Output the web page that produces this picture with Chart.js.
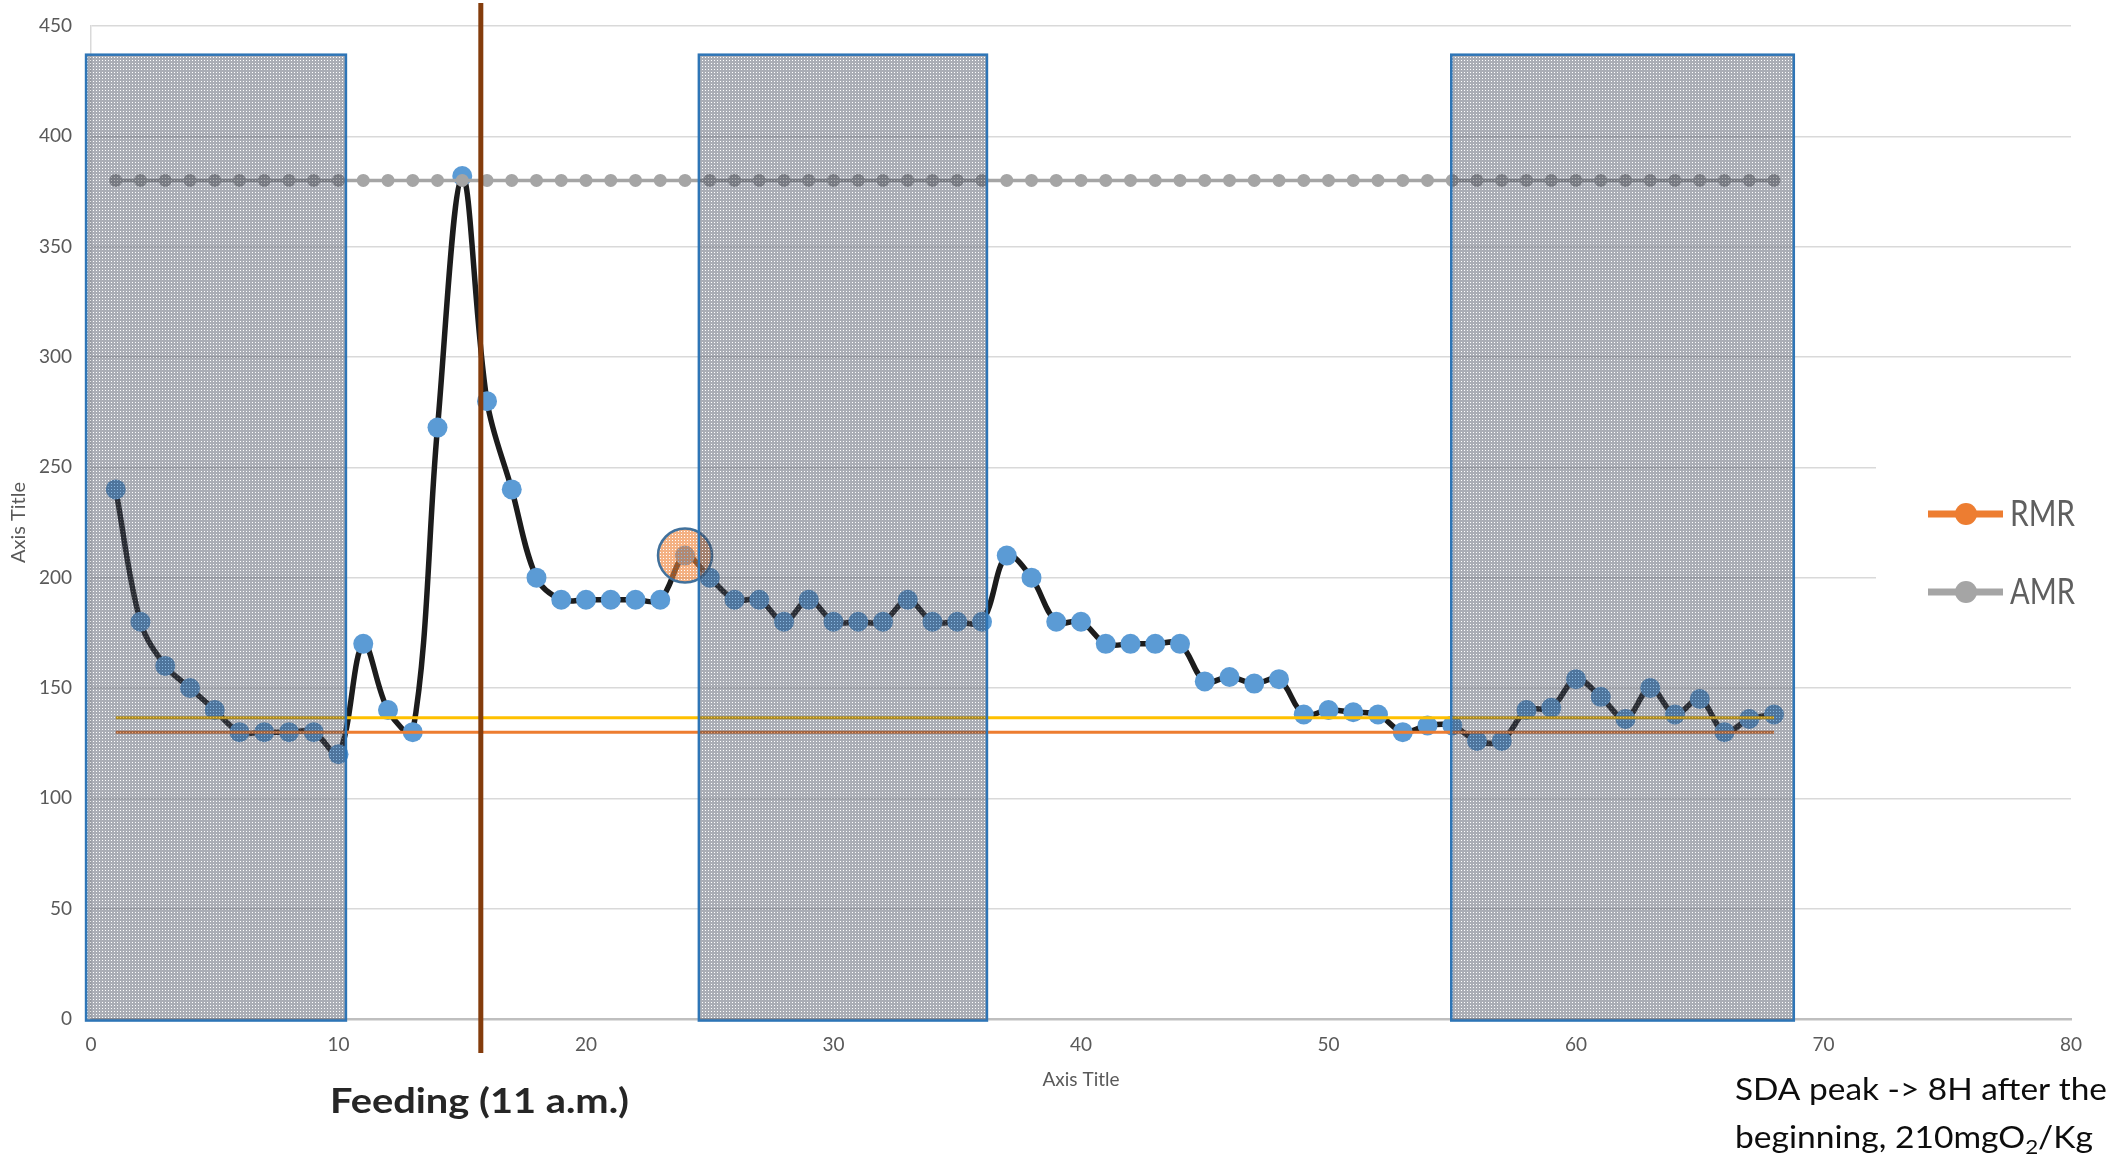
<!DOCTYPE html>
<html>
<head>
<meta charset="utf-8">
<title>SDA</title>
<script src="https://cdn.jsdelivr.net/npm/chart.js@4.4.1/dist/chart.umd.min.js"></script>
<style>
  html, body { margin: 0; padding: 0; background: #fff; }
  #wrap { width: 2127px; height: 1155px; }
</style>
</head>
<body>
<div id="wrap"><canvas id="myChart" width="2127" height="1155"></canvas></div>
<script>
// hours since start of the recording
const hours = [1, 2, 3, 4, 5, 6, 7, 8, 9, 10, 11, 12, 13, 14, 15, 16, 17, 18, 19, 20,
    21, 22, 23, 24, 25, 26, 27, 28, 29, 30, 31, 32, 33, 34, 35, 36, 37, 38, 39, 40,
    41, 42, 43, 44, 45, 46, 47, 48, 49, 50, 51, 52, 53, 54, 55, 56, 57, 58, 59, 60,
    61, 62, 63, 64, 65, 66, 67, 68];

// oxygen consumption, mgO2/Kg/h
const mo2 = [240, 180, 160, 150, 140, 130, 130, 130, 130, 120, 170, 140, 130, 268, 382, 280, 240, 200, 190, 190,
    190, 190, 190, 210, 200, 190, 190, 180, 190, 180, 180, 180, 190, 180, 180, 180, 210, 200, 180, 180,
    170, 170, 170, 170, 153, 155, 152, 154, 138, 140, 139, 138, 130, 133, 133, 126, 126, 140, 141, 154,
    146, 136, 150, 138, 145, 130, 136, 138];

// active metabolic rate, one reading per hour
const amr = [380, 380, 380, 380, 380, 380, 380, 380, 380, 380, 380, 380, 380, 380, 380, 380, 380, 380, 380, 380,
    380, 380, 380, 380, 380, 380, 380, 380, 380, 380, 380, 380, 380, 380, 380, 380, 380, 380, 380, 380,
    380, 380, 380, 380, 380, 380, 380, 380, 380, 380, 380, 380, 380, 380, 380, 380, 380, 380, 380, 380,
    380, 380, 380, 380, 380, 380, 380, 380];

// routine metabolic rate and mean level, start and end of the run
const levelHours = [1, 68];
const rmr = [130, 130];
const meanLevel = [136.5, 136.5];

// night periods (hours) shaded on the plot
const nightStart = [-0.2, 24.56, 54.96];
const nightEnd = [10.3, 36.2, 68.8];
const nightTop = 437;

const feedingHour = 15.75;
const sdaPeak = { x: 24, y: 210 };

const legendLabels = ['RMR', 'AMR'];

const toPoints = (xs, ys) => xs.map((x, i) => ({ x: x, y: ys[i] }));

function makeTile(base, light) {
    const c = document.createElement('canvas');
    c.width = 3; c.height = 3;
    const g = c.getContext('2d');
    g.fillStyle = base;
    g.fillRect(0, 0, 3, 3);
    g.clearRect(0, 0, 1, 1);
    g.fillStyle = light;
    g.fillRect(0, 0, 1, 1);
    return c;
}

// text squeezed to a given width, runs = [{text, font, dy}]
function drawRuns(ctx, runs, x, y, width, color) {
    ctx.save();
    ctx.fillStyle = color;
    ctx.textBaseline = 'alphabetic';
    ctx.textAlign = 'left';
    let total = 0;
    runs.forEach(r => { ctx.font = r.font; r.w = ctx.measureText(r.text).width; total += r.w; });
    ctx.translate(x, y);
    ctx.scale(width / total, 1);
    let cx = 0;
    runs.forEach(r => { ctx.font = r.font; ctx.fillText(r.text, cx, r.dy || 0); cx += r.w; });
    ctx.restore();
}

const overlays = {
    id: 'overlays',
    beforeDraw(chart) {
        const ctx = chart.ctx;
        ctx.save();
        ctx.fillStyle = '#fff';
        ctx.fillRect(0, 0, chart.width, chart.height);
        ctx.restore();
    },
    beforeDatasetsDraw(chart) {
        // legend box hides the gridlines behind it
        const ctx = chart.ctx;
        ctx.save();
        ctx.fillStyle = '#fff';
        ctx.fillRect(1876, 415, chart.chartArea.right - 1876 + 2, 225);
        ctx.restore();
    },
    afterDatasetsDraw(chart) {
        const ctx = chart.ctx;
        const x = chart.scales.x, y = chart.scales.y;

        // SDA peak marker
        ctx.save();
        ctx.beginPath();
        ctx.arc(x.getPixelForValue(sdaPeak.x), y.getPixelForValue(sdaPeak.y), 27, 0, Math.PI * 2);
        ctx.fillStyle = ctx.createPattern(makeTile('rgba(237,125,49,0.6)', 'rgba(255,255,255,0.35)'), 'repeat');
        ctx.fill();
        ctx.lineWidth = 2.5;
        ctx.strokeStyle = '#41719c';
        ctx.stroke();
        ctx.restore();

        // night periods
        ctx.save();
        const shade = ctx.createPattern(makeTile('rgba(62,68,86,0.44)', 'rgba(255,255,255,0.3)'), 'repeat');
        for (let i = 0; i < nightStart.length; i++) {
            const x0 = x.getPixelForValue(nightStart[i]);
            const x1 = x.getPixelForValue(nightEnd[i]);
            const y0 = y.getPixelForValue(nightTop);
            const y1 = y.getPixelForValue(-0.7);
            ctx.fillStyle = shade;
            ctx.fillRect(x0, y0, x1 - x0, y1 - y0);
            ctx.lineWidth = 2.5;
            ctx.strokeStyle = '#2e75b6';
            ctx.strokeRect(x0, y0, x1 - x0, y1 - y0);
        }
        ctx.restore();

        // feeding time
        ctx.save();
        const fx = x.getPixelForValue(feedingHour);
        ctx.beginPath();
        ctx.moveTo(fx, 3);
        ctx.lineTo(fx, 1053);
        ctx.lineWidth = 5;
        ctx.strokeStyle = '#843c0c';
        ctx.stroke();
        ctx.restore();

        // legend
        ctx.save();
        legendLabels.forEach((lab, i) => {
            const ds = chart.data.datasets.find(d => d.label === lab);
            const ly = 514 + i * 78;
            ctx.beginPath();
            ctx.moveTo(1928, ly);
            ctx.lineTo(2003, ly);
            ctx.lineWidth = 7;
            ctx.strokeStyle = ds.borderColor;
            ctx.stroke();
            ctx.beginPath();
            ctx.arc(1966, ly, 11, 0, Math.PI * 2);
            ctx.fillStyle = ds.borderColor;
            ctx.fill();
            drawRuns(ctx, [{ text: lab, font: '36px Lato' }], 2010, ly + 12, 65, '#5f5f5f');
        });
        ctx.restore();

        // notes under the axis
        drawRuns(ctx, [{ text: 'Feeding (11 a.m.)', font: 'bold 35px Lato' }], 330, 1113, 299, '#262626');
        drawRuns(ctx, [{ text: 'SDA peak -> 8H after the', font: '30px Lato' }], 1735, 1100, 372, '#0d0d0d');
        drawRuns(ctx, [
            { text: 'beginning, 210mgO', font: '30px Lato' },
            { text: '2', font: '20px Lato', dy: 6 },
            { text: '/Kg', font: '30px Lato' }
        ], 1735, 1148, 358, '#0d0d0d');
    }
};

const tickFont = { family: 'Lato', size: 19 };

const config = {
    type: 'scatter',
    data: {
        datasets: [
            {
                label: 'MO2',
                data: toPoints(hours, mo2),
                showLine: true,
                borderColor: '#1c1c1c',
                borderWidth: 5.5,
                tension: 0.35,
                pointRadius: 10,
                pointBackgroundColor: '#5b9bd5',
                pointBorderColor: '#5b9bd5',
                pointBorderWidth: 0,
                order: 3
            },
            {
                label: 'Mean',
                data: toPoints(levelHours, meanLevel),
                showLine: true,
                borderColor: '#ffc000',
                borderWidth: 3,
                pointRadius: 0,
                order: 2
            },
            {
                label: 'RMR',
                data: toPoints(levelHours, rmr),
                showLine: true,
                borderColor: '#ed7d31',
                backgroundColor: '#ed7d31',
                borderWidth: 3,
                pointRadius: 0,
                order: 1
            },
            {
                label: 'AMR',
                data: toPoints(hours, amr),
                showLine: true,
                borderColor: '#a5a5a5',
                backgroundColor: '#a5a5a5',
                borderWidth: 3.5,
                pointRadius: 6.5,
                pointBackgroundColor: '#a5a5a5',
                pointBorderWidth: 0,
                order: 0
            }
        ]
    },
    options: {
        responsive: false,
        animation: false,
        devicePixelRatio: 1,
        layout: { padding: { top: 26, right: 56, left: 0, bottom: 0 } },
        plugins: {
            legend: { display: false },
            tooltip: { enabled: false }
        },
        scales: {
            x: {
                type: 'linear',
                min: 0,
                max: 80,
                ticks: { stepSize: 10, color: '#595959', font: tickFont, padding: 14 },
                grid: { display: false, drawTicks: false },
                border: { display: true, color: '#bfbfbf', width: 2.5 },
                title: {
                    display: true, text: 'Axis Title', color: '#595959',
                    font: { family: 'Lato', size: 19 }, padding: { top: 0, bottom: 64 }
                },
                afterFit: s => { s.height = 136; }
            },
            y: {
                min: 0,
                max: 450,
                ticks: { stepSize: 50, color: '#595959', font: tickFont, padding: 19 },
                grid: { color: '#d9d9d9', lineWidth: 1.5, drawTicks: false },
                border: { display: true, color: '#d9d9d9', width: 1.5 },
                title: {
                    display: true, text: 'Axis Title', color: '#595959',
                    font: { family: 'Lato', size: 20 }, padding: { top: 7, bottom: 0 }
                },
                afterFit: s => {
                    s.width = 91;
                    s.paddingTop = 0;
                    s.paddingBottom = 0;
                }
            }
        }
    },
    plugins: [overlays]
};

const myChart = new Chart(document.getElementById('myChart'), config);
</script>
</body>
</html>
